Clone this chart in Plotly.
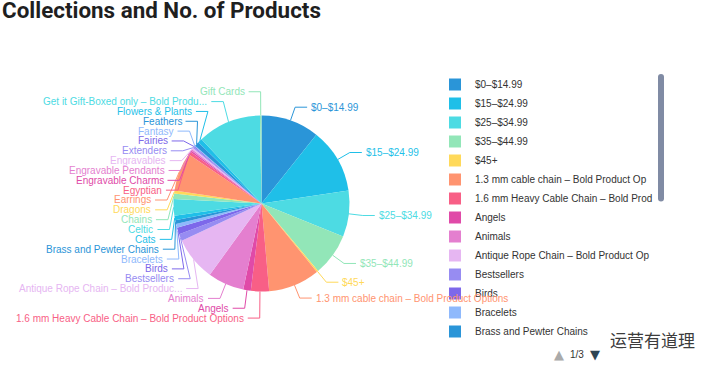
import math
import plotly.graph_objects as go

# ---------------- data ----------------
categories = [
    "$0–$14.99", "$15–$24.99", "$25–$34.99", "$35–$44.99", "$45+",
    "1.3 mm cable chain – Bold Product Options",
    "1.6 mm Heavy Cable Chain – Bold Product Options",
    "Angels", "Animals", "Antique Rope Chain – Bold Product Options",
    "Bestsellers", "Birds", "Bracelets", "Brass and Pewter Chains",
    "Cats", "Celtic", "Chains", "Dragons", "Earrings", "Egyptian",
    "Engravable Charms", "Engravable Pendants", "Engravables", "Extenders",
    "Fairies", "Fantasy", "Feathers", "Flowers & Plants",
    "Get it Gift-Boxed only – Bold Product Options", "Gift Cards",
]
products = [
    77, 86, 61, 56, 2,
    68,
    24,
    10, 48, 58,
    9, 9, 5, 5,
    6, 22, 7, 4, 51, 4,
    2, 2, 2, 2,
    1, 1, 6, 6,
    84, 2,
]
# label text as displayed next to the pie (two long names are cut with an ellipsis)
label_overrides = {
    "Get it Gift-Boxed only – Bold Product Options": "Get it Gift-Boxed only – Bold Produ...",
    "Antique Rope Chain – Bold Product Options": "Antique Rope Chain – Bold Produc...",
}
title_text = "Collections and No. of Products"

# ---------------- style ----------------
W, H = 720, 370
CX, CY, R = 261.5, 203.5, 88.0
LINE1, LINE2, TEXT_GAP = 14.0, 12.0, 3.0
ELLIPSE_RA = R + 6.5
ROW_H = 9.84
BOUND_TOP, BOUND_BOTTOM = 0.0, 323.0
LABEL_FONT = "Liberation Sans, Arial, sans-serif"
LEGEND_MAX_CHARS = 36
palette = ['#2a95d8', '#1fbfe8', '#4ddbe3', '#92e6b8', '#ffd95a', '#ff9470', '#f85f86',
           '#e04aa8', '#e47fcf', '#e6b6f2', '#978cf2', '#7d68ea', '#8fb9fc']
colors = [palette[i % len(palette)] for i in range(len(categories))]
legend_names = [c if len(c) <= LEGEND_MAX_CHARS else c[:LEGEND_MAX_CHARS] for c in categories]


def px(x):
    return x / W


def py(y):
    return 1 - y / H


# ---------------- label layout (outside labels with leader lines) ----------------
total = float(sum(products))
items = []
acc = 0.0
for i, v in enumerate(products):
    mid = math.radians((acc + v / 2.0) / total * 360.0)
    acc += v
    ux, uy = math.sin(mid), -math.cos(mid)
    side = 1 if ux >= 0 else -1
    items.append(dict(idx=i, side=side,
                      p1=(CX + R * ux, CY + R * uy),
                      p2x=CX + (R + LINE1) * ux,
                      y=CY + (R + LINE1) * uy))


def layout_side(lst):
    lst.sort(key=lambda it: it['y'])
    shifted = False
    last = BOUND_TOP
    for it in lst:
        top = it['y'] - ROW_H / 2
        if top < last:
            it['y'] += last - top
            shifted = True
        last = it['y'] + ROW_H / 2
    last = BOUND_BOTTOM
    for it in reversed(lst):
        bottom = it['y'] + ROW_H / 2
        if bottom > last:
            it['y'] -= bottom - last
            shifted = True
        last = it['y'] - ROW_H / 2
    for it in lst:
        it['lx'] = it['p2x']
    if shifted:
        for upper in (True, False):
            semi = [it for it in lst if (it['y'] < CY) == upper]
            if not semi:
                continue
            far = max(semi, key=lambda it: abs(it['y'] - CY))
            dy0 = abs(far['y'] - CY)
            dx0 = far['p2x'] - CX
            if abs(dx0) < ELLIPSE_RA and dy0 > 0:
                rb = math.sqrt(dy0 ** 2 / (1 - (dx0 / ELLIPSE_RA) ** 2))
            else:
                rb = ELLIPSE_RA
            for it in semi:
                dy = abs(it['y'] - CY)
                dx = math.sqrt(max(0.0, 1 - (dy / rb) ** 2)) * ELLIPSE_RA
                dx = min(dx, abs(it['p2x'] - CX))
                it['lx'] = CX + it['side'] * dx


layout_side([it for it in items if it['side'] == 1])
layout_side([it for it in items if it['side'] == -1])

shapes = []
annotations = []
for it in items:
    i = it['idx']
    col = colors[i]
    x1, y1 = it['p1']
    x2, y2 = it['lx'], it['y']
    x3 = x2 + it['side'] * LINE2
    shapes.append(dict(type='path', xref='paper', yref='paper',
                       path=f"M{px(x1)},{py(y1)} L{px(x2)},{py(y2)} L{px(x3)},{py(y2)}",
                       line=dict(color=col, width=1)))
    annotations.append(dict(text=label_overrides.get(categories[i], categories[i]),
                            xref='paper', yref='paper',
                            x=px(x3 + it['side'] * TEXT_GAP), y=py(y2),
                            xanchor='left' if it['side'] == 1 else 'right',
                            yanchor='middle', showarrow=False, borderpad=0,
                            font=dict(family=LABEL_FONT, size=10, color=col)))

# legend pager and watermark text
annotations += [
    dict(text="▲", x=px(559), y=py(354), xref='paper', yref='paper', showarrow=False,
         xanchor='center', yanchor='middle',
         font=dict(family="DejaVu Sans", size=13, color="#aaaaaa")),
    dict(text="1/3", x=px(577), y=py(354), xref='paper', yref='paper', showarrow=False,
         xanchor='center', yanchor='middle',
         font=dict(family=LABEL_FONT, size=10, color="#333333")),
    dict(text="▼", x=px(595), y=py(354), xref='paper', yref='paper', showarrow=False,
         xanchor='center', yanchor='middle',
         font=dict(family="DejaVu Sans", size=13, color="#2f4554")),
    dict(text="运营有道理", x=px(652), y=py(339), xref='paper', yref='paper', showarrow=False,
         xanchor='center', yanchor='middle',
         font=dict(family="Noto Sans CJK SC", size=17, color="#3c3c3c")),
]

fig = go.Figure(go.Pie(
    labels=legend_names,
    values=products,
    customdata=categories,
    hovertemplate="%{customdata}: %{value}<extra></extra>",
    sort=False,
    direction='clockwise',
    rotation=0,
    textinfo='none',
    marker=dict(colors=colors, line=dict(width=0)),
    domain=dict(x=[px(CX - R), px(CX + R)], y=[py(CY + R), py(CY - R)]),
    showlegend=True,
))

fig.update_layout(
    width=W, height=H,
    margin=dict(l=0, r=0, t=0, b=0),
    paper_bgcolor='white', plot_bgcolor='white',
    title=dict(text=title_text, x=2 / W, xanchor='left', xref='container',
               y=1 - 10.5 / H, yanchor='middle', yref='container',
               font=dict(family="Roboto", size=22.4, color="#1f1f1f", weight='bold')),
    legend=dict(x=px(435), y=py(70), xanchor='left', yanchor='top',
                bgcolor='rgba(0,0,0,0)', maxheight=272,
                font=dict(family=LABEL_FONT, size=10, color='#333333')),
    shapes=shapes,
    annotations=annotations,
)

fig.write_html("out.html", config={"displayModeBar": False},
               post_script="document.body.style.margin='0px';")
